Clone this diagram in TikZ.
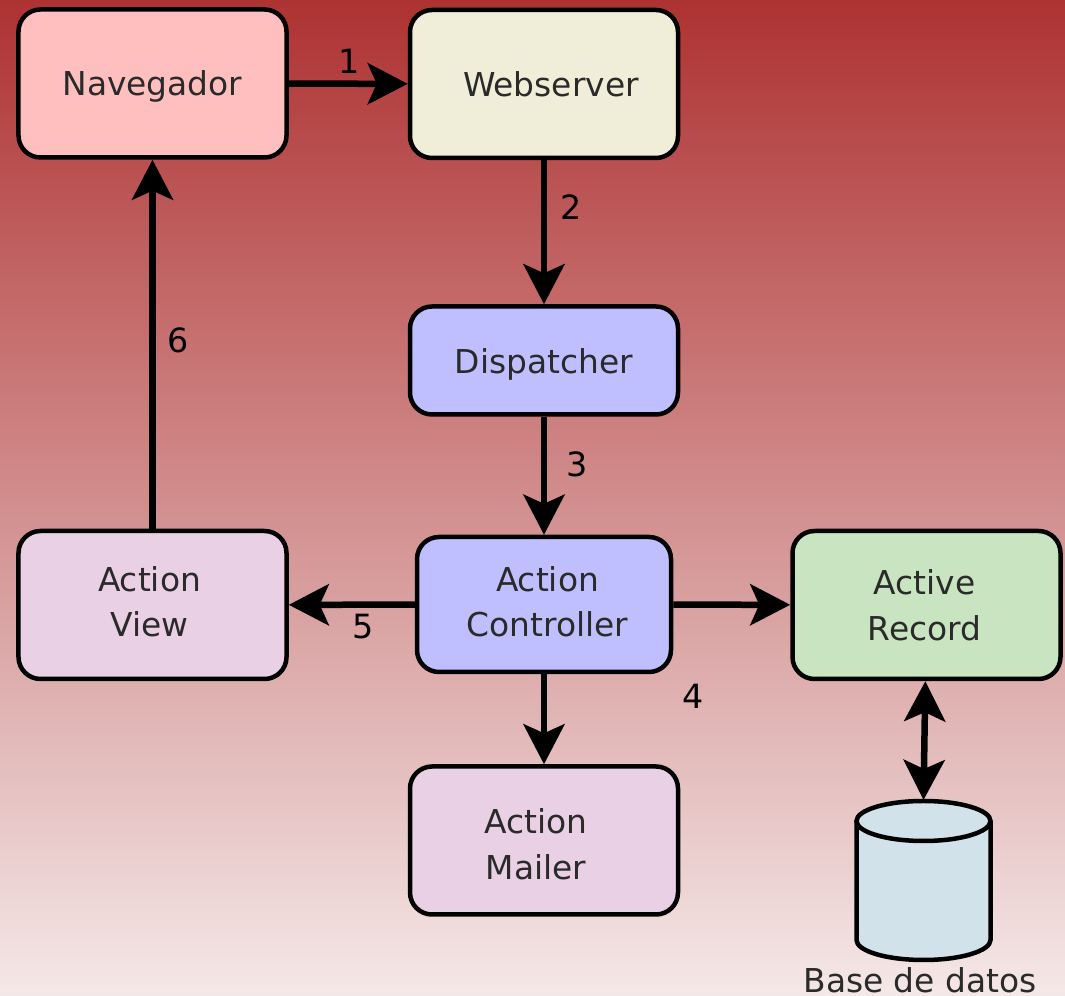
\documentclass[tikz,border=0pt]{standalone}
\usepackage{fontspec}
\setmainfont{DejaVu Sans}
\usetikzlibrary{arrows.meta}
\definecolor{bgtop}{HTML}{AE3232}
\definecolor{bgbottom}{HTML}{F5E8E8}
\definecolor{ink}{HTML}{2A2A2A}
\definecolor{dbfill}{HTML}{D2E2EA}

\begin{document}
\begin{tikzpicture}[line width = 0.065cm,
                        box/.style = {rectangle, rounded corners = 0.22cm, draw, line width = 0.045cm, align = center,
                                      text = ink, minimum width = 2.68cm, minimum height = 1.48cm, inner sep = 0pt,
                                      font = \fontsize{9.35}{13}\selectfont},
                        flow/.style = {-{Stealth[length = 0.4cm, width = 0.41cm, inset = 0.09cm]}},
                        both flow/.style = {{Stealth[length = 0.4cm, width = 0.41cm, inset = 0.09cm]}-{Stealth[length = 0.4cm, width = 0.41cm, inset = 0.09cm]}},
                        step num/.style = {text = black, inner sep = 0pt, font = \fontsize{9.5}{11}\selectfont}]
      \shade [top color = bgtop, bottom color = bgbottom] (0, 0) rectangle (10.65, 9.96);
      \useasboundingbox (0, 0) rectangle (10.65, 9.96);
      \node [box, fill = {rgb,255:red,255;green,191;blue,191}] (navegador) at (1.525, 9.125){\rule{0pt}{0.3cm}Navegador};
      \node [box, fill = {rgb,255:red,240;green,237;blue,216}] (webserver) at (5.44, 9.12){\hspace*{0.14cm}Webserver};
      \node [box, fill = {rgb,255:red,191;green,191;blue,255}, minimum height = 1.08cm] (dispatcher) at (5.44, 6.355){\rule{0pt}{0.33cm}Dispatcher};
      \node [box, fill = {rgb,255:red,191;green,191;blue,255}, minimum width = 2.54cm, minimum height = 1.35cm] (controller) at (5.44, 3.915){\hspace*{0.07cm}Action\\\hspace*{0.07cm}Controller\rule[-0.06cm]{0pt}{0.06cm}};
      \node [box, fill = {rgb,255:red,234;green,208;blue,228}] (view) at (1.525, 3.91){\hspace*{-0.06cm}Action\\\hspace*{-0.06cm}View\rule[-0.07cm]{0pt}{0.07cm}};
      \node [box, fill = {rgb,255:red,200;green,228;blue,192}] (record) at (9.265, 3.91){\hspace*{-0.04cm}Active\\\hspace*{-0.04cm}Record};
      \node [box, fill = {rgb,255:red,234;green,208;blue,228}] (mailer) at (5.44, 1.555){\rule{0pt}{0.33cm}\hspace*{-0.16cm}Action\\\hspace*{-0.16cm}Mailer};
      % database
      \filldraw [fill = dbfill, line width = 0.045cm] (8.565, 1.75) -- (8.565, 0.56) arc [start angle = 180, end angle = 360, x radius = 0.67, y radius = 0.2] -- (9.905, 1.75);
      \filldraw [fill = dbfill, line width = 0.045cm] (9.235, 1.75) ellipse [x radius = 0.67, y radius = 0.2];
      \coordinate (dbtop) at (9.235, 1.96);
      \node [text = ink, inner sep = 0pt, font = \fontsize{9.35}{11}\selectfont] (dblabel) at (9.2, 0.16){Base de datos};
      \draw [flow] (navegador) -- (webserver);
      \draw [flow] (webserver) -- (dispatcher);
      \draw [flow] (dispatcher) -- (controller);
      \draw [flow] (controller) -- (view);
      \draw [flow] (controller) -- (record);
      \draw [flow] (controller) -- (mailer);
      \draw [flow] (view) -- (navegador);
      \draw [both flow] (record) -- (dbtop);
      \node [step num] (one) at (3.49, 9.35){1};
      \node [step num] (two) at (5.71, 7.89){2};
      \node [step num] (three) at (5.77, 5.32){3};
      \node [step num] (four) at (6.93, 3.00){4};
      \node [step num] (five) at (3.63, 3.69){5};
      \node [step num] (six) at (1.78, 6.56){6};
    \end{tikzpicture}
\end{document}
